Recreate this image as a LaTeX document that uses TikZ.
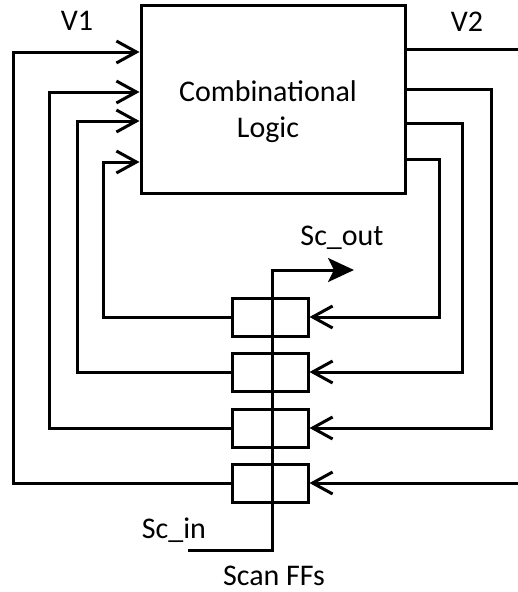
\documentclass[tikz,border=0pt]{standalone}
\usepackage{fontspec}
\setmainfont{Carlito}
\usetikzlibrary{arrows.meta}
\begin{document}
\begin{tikzpicture}[x=1pt,y=-1pt, line width=3pt,
  box/.style={draw, line width=3pt, inner sep=0pt},
  barb/.style={-{Straight Barb[length=20pt,width=22pt,line width=3pt]}},
  scanarrow/.style={-{Stealth[length=26pt,width=24pt,inset=6pt]}},
  lbl/.style={font=\fontsize{30}{36}\selectfont, inner sep=0pt}]
\useasboundingbox (0,0) rectangle (518,592);
% Combinational logic block
\node[box, minimum width=264pt, minimum height=188pt] (cl) at (273,99) {};
\node[lbl, align=center] (cltxt) at (268,112) {Combinational\\Logic};
% Scan flip-flops
\node[box, minimum width=76pt, minimum height=38pt] (ff1) at (270,317) {};
\node[box, minimum width=76pt, minimum height=38pt] (ff2) at (270,372) {};
\node[box, minimum width=76pt, minimum height=38pt] (ff3) at (270,428) {};
\node[box, minimum width=76pt, minimum height=38pt] (ff4) at (270,483) {};
% free ends
\coordinate (v2end) at (518,49);
\coordinate (rin) at (518,483);
\coordinate (scin) at (188,550);
\coordinate (scout) at (354,270);
% feedback from FFs to logic inputs (left)
\draw[barb] (ff4.west) -- (13,483) -- (13,52) -- (cl.west |- 0,52);
\draw[barb] (ff3.west) -- (49,428) -- (49,92) -- (cl.west |- 0,92);
\draw[barb] (ff2.west) -- (77,372) -- (77,121) -- (cl.west |- 0,121);
\draw[barb] (ff1.west) -- (103,317) -- (103,162) -- (cl.west |- 0,162);
% logic outputs to FFs (right)
\draw (cl.east |- 0,49) -- (v2end);
\draw[barb] (cl.east |- 0,89) -- (491,89) |- (ff3.east);
\draw[barb] (cl.east |- 0,123) -- (462,123) |- (ff2.east);
\draw[barb] (cl.east |- 0,159) -- (439,159) |- (ff1.east);
\draw[barb] (rin) -- (ff4.east);
% scan chain
\draw[scanarrow] (scin) -- (272,550) -- (272,270) -- (scout);
% labels
\node[lbl, anchor=base] (v1) at (77,30) {V1};
\node[lbl, anchor=base] (v2) at (467,31) {V2};
\node[lbl, anchor=base] (sco) at (342,245) {Sc\_out};
\node[lbl, anchor=base] (sci) at (174,538) {Sc\_in};
\node[lbl, anchor=base] (sff) at (274,585) {Scan FFs};
\end{tikzpicture}
\end{document}
